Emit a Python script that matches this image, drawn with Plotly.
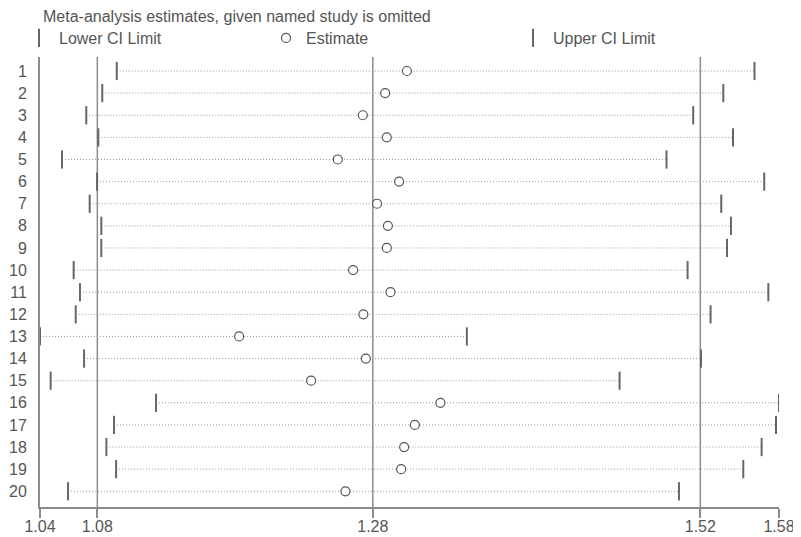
import plotly.graph_objects as go

studies = [str(i) for i in range(1, 21)]
estimates = [1.3081, 1.2922, 1.2759, 1.2934, 1.2576, 1.3024, 1.2863, 1.2942, 1.2934, 1.2688,
             1.2961, 1.2763, 1.1855, 1.2781, 1.2381, 1.3326, 1.3139, 1.3061, 1.3039, 1.2632]
lower_ci = [1.0961, 1.0855, 1.0738, 1.0826, 1.0561, 1.0817, 1.0763, 1.0848, 1.0848, 1.0646,
            1.0692, 1.0661, 1.0400, 1.0722, 1.0478, 1.1248, 1.0941, 1.0885, 1.0956, 1.0605]
upper_ci = [1.5621, 1.5393, 1.5173, 1.5464, 1.4978, 1.5692, 1.5378, 1.5449, 1.5420, 1.5132,
            1.5722, 1.5300, 1.3519, 1.5230, 1.4635, 1.5800, 1.5778, 1.5673, 1.5539, 1.5069]
overall = [1.0819, 1.2832, 1.5225]  # combined lower, estimate, upper
tick_vals = [1.04, 1.0819, 1.2832, 1.5225, 1.58]
tick_text = ["1.04", "1.08", "1.28", "1.52", "1.58"]

rows = list(range(1, 21))
FONT = "Arial, Liberation Sans, sans-serif"
TXT = "#555555"
AX = "#8c8c8c"
MK = "#666666"

# page body has an 8px margin; figure sized to fill the remaining window
W, H = 793, 529

fig = go.Figure()

# dotted CI lines
lx, ly = [], []
for r, lo, hi in zip(rows, lower_ci, upper_ci):
    lx += [lo, hi, None]
    ly += [r, r, None]
fig.add_trace(go.Scatter(x=lx, y=ly, mode="lines", showlegend=False, hoverinfo="skip",
                         line=dict(color="#9a9a9a", width=1, dash="1px,2px")))

fig.add_trace(go.Scatter(x=lower_ci, y=rows, mode="markers", name="Lower CI Limit",
                         marker=dict(symbol="line-ns-open", size=13, color=MK,
                                     line=dict(color=MK, width=2))))
fig.add_trace(go.Scatter(x=estimates, y=rows, mode="markers", name="Estimate",
                         marker=dict(symbol="circle", size=9, color="white",
                                     line=dict(color="#555555", width=1.2))))
fig.add_trace(go.Scatter(x=upper_ci, y=rows, mode="markers", name="Upper CI Limit",
                         marker=dict(symbol="line-ns-open", size=13, color=MK,
                                     line=dict(color=MK, width=2))))

for v in overall:
    fig.add_shape(type="line", xref="x", yref="paper", x0=v, x1=v, y0=0, y1=1,
                  line=dict(color=AX, width=1.5), layer="below")

fig.update_layout(
    width=W, height=H,
    margin=dict(l=32, r=22, t=49, b=30, autoexpand=False),
    paper_bgcolor="white", plot_bgcolor="white",
    font=dict(family=FONT, size=16, color=TXT),
    title=dict(text="Meta-analysis estimates, given named study is omitted",
               xref="container", x=35/W, xanchor="left",
               yref="container", y=1-8/H, yanchor="middle",
               font=dict(family=FONT, size=16, color=TXT)),
    legend=dict(orientation="h", xref="container", x=11/W, xanchor="left",
                yref="container", y=1-30/H, yanchor="middle",
                entrywidth=202, entrywidthmode="pixels", itemwidth=30,
                font=dict(family=FONT, size=16, color=TXT), bgcolor="rgba(0,0,0,0)"),
    xaxis=dict(range=[1.04, 1.58], tickvals=tick_vals, ticktext=tick_text, automargin=False,
               showgrid=False, zeroline=False, showline=True, linecolor=AX, linewidth=2,
               ticks="outside", ticklen=9, tickwidth=1.5, tickcolor=AX,
               ticklabelstandoff=-5,
               tickfont=dict(family=FONT, size=16, color=TXT)),
    yaxis=dict(range=[20.71, 0.367], tickvals=rows, ticktext=studies, automargin=False,
               showgrid=False, zeroline=False, showline=True, linecolor=AX, linewidth=2,
               ticks="", ticklabelstandoff=8,
               tickfont=dict(family=FONT, size=16, color=TXT)),
)

fig.write_html("out.html")
